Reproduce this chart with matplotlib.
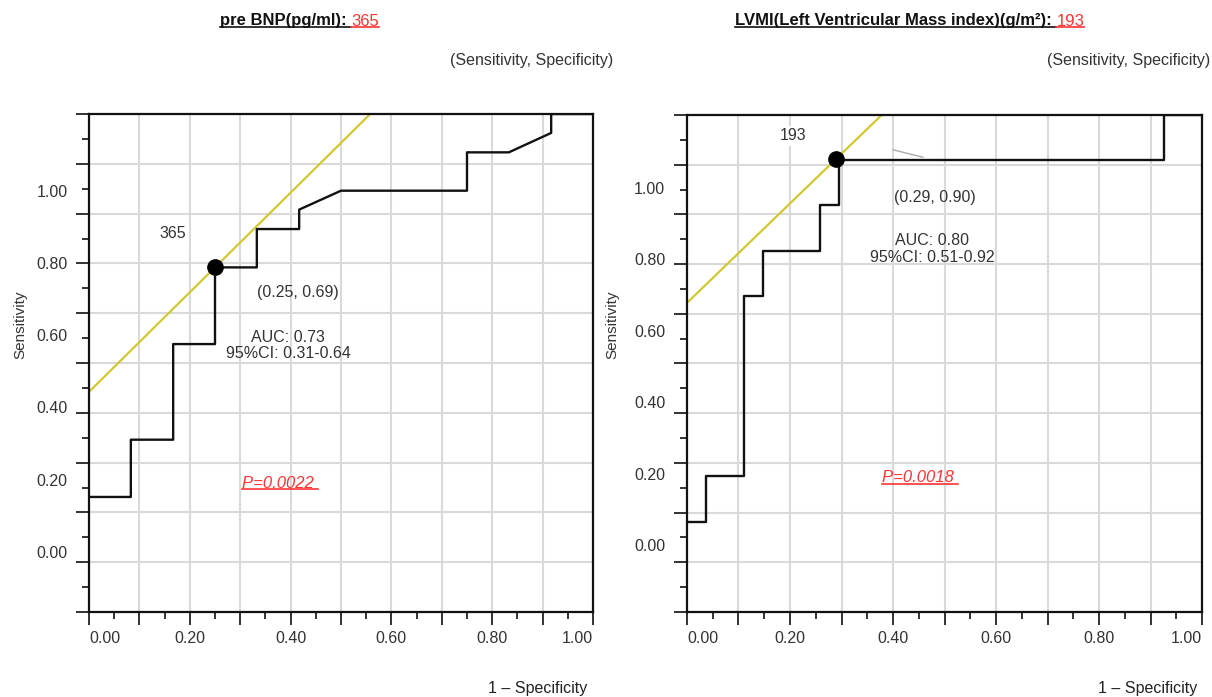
import numpy as np
import matplotlib
matplotlib.use("Agg")
import matplotlib.pyplot as plt
from matplotlib.lines import Line2D
from matplotlib.ticker import MultipleLocator, FixedLocator

plt.rcParams['font.family'] = ['Liberation Sans', 'DejaVu Sans']

# ROC curve vertices
bnp_fpr = [0, 0.083, 0.083, 0.167, 0.167, 0.25, 0.25, 0.333, 0.333, 0.417, 0.417, 0.5, 0.75, 0.75, 0.833, 0.917, 0.917, 1.0]
bnp_sens = [0.231, 0.231, 0.346, 0.346, 0.538, 0.538, 0.692, 0.692, 0.769, 0.769, 0.808, 0.846, 0.846, 0.923, 0.923, 0.962, 1.0, 1.0]
lvmi_fpr = [0, 0.037, 0.037, 0.111, 0.111, 0.148, 0.148, 0.259, 0.259, 0.296, 0.296, 0.926, 0.926, 1.0]
lvmi_sens = [0.182, 0.182, 0.273, 0.273, 0.636, 0.636, 0.727, 0.727, 0.818, 0.818, 0.909, 0.909, 1.0, 1.0]

# optimal cut-off points
cut_fpr = [0.25, 0.29]
cut_sens = [0.692, 0.912]
cut_values = ["365", "193"]
titles = ["pre BNP(pg/ml): ", "LVMI(Left Ventricular Mass index)(g/m\u00b2): "]
pair_labels = ["(0.25, 0.69)", "(0.29, 0.90)"]
auc_labels = ["AUC: 0.73\n95%CI: 0.31-0.64", "AUC: 0.80\n95%CI: 0.51-0.92"]
p_labels = ["P=0.0022 ", "P=0.0018 "]
ytick_labels = ["0.00", "0.20", "0.40", "0.60", "0.80", "1.00"]
xtick_labels = ["0.00", "", "0.20", "", "0.40", "", "0.60", "", "0.80", "", "1.00"]

W, H = 1212, 697
fig = plt.figure(figsize=(W / 100, H / 100), dpi=100)

def px(x, y):
    return x / W, 1 - y / H

ax1 = fig.add_axes([89 / W, 1 - 612 / H, 504 / W, 498 / H])
ax2 = fig.add_axes([687 / W, 1 - 612 / H, 515 / W, 497 / H])

grey = '#d9d9d9'
yellow = '#d2c832'
red = '#ff3333'

panels = [
    (ax1, bnp_fpr, bnp_sens, 0.118, 0.145,
     (0.167, 0.761), (0.415, 0.641), (0.395, 0.535), (0.379, 0.259)),
    (ax2, lvmi_fpr, lvmi_sens, 0.131, 0.144,
     (0.206, 0.958), (0.482, 0.833), (0.476, 0.730), (0.452, 0.270)),
]

p_texts = []
for i, (ax, fpr, sens, y0, dy, cpos, ppos, apos, ppos2) in enumerate(panels):
    ax.set_xlim(0, 1)
    ax.set_ylim(0, 1)
    ax.xaxis.set_major_locator(FixedLocator(np.linspace(0, 1, 11)))
    ax.xaxis.set_minor_locator(FixedLocator(np.linspace(0.05, 0.95, 10)))
    ax.yaxis.set_major_locator(MultipleLocator(0.1))
    ax.yaxis.set_minor_locator(FixedLocator(np.linspace(0.05, 0.95, 10)))
    ax.set_xticklabels(xtick_labels)
    ax.set_yticklabels([])
    ax.tick_params(which='major', length=9.5, width=1.3, color='#222222',
                   labelsize=11.5, labelcolor='#333333', pad=4)
    ax.tick_params(which='minor', length=5, width=1.3, color='#222222')
    labs = ax.get_xticklabels()
    labs[0].set_horizontalalignment('left')
    labs[-1].set_horizontalalignment('right')
    for sp in ax.spines.values():
        sp.set_linewidth(1.6)
        sp.set_color('#111111')
    ax.grid(which='major', color=grey, lw=1.5)
    ax.set_axisbelow(True)

    # y labels sit on their own spacing in the original
    for k, lab in enumerate(ytick_labels):
        ax.text(-0.042, y0 + k * dy, lab, transform=ax.get_yaxis_transform(),
                ha='right', va='center', fontsize=11.5, color='#333333')

    # tangent line through the cut-off point
    xs = np.array([0, 1])
    ax.plot(xs, xs + (cut_sens[i] - cut_fpr[i]), color=yellow, lw=1.6, zorder=2)
    ax.plot(fpr, sens, color='#111111', lw=1.7, zorder=3)
    ax.plot(cut_fpr[i], cut_sens[i], 'o', color='black', ms=11, zorder=4)

    ax.text(*cpos, cut_values[i], fontsize=11.5, color='#333333', ha='center',
            va='center', bbox=dict(fc='white', ec='none', pad=2), zorder=3)
    ax.text(*ppos, pair_labels[i], fontsize=11.5, color='#333333', ha='center', va='center')
    ax.text(*apos, auc_labels[i], fontsize=11.5, color='#333333', ha='center',
            va='center', linespacing=1.15)
    p_texts.append(ax.text(*ppos2, p_labels[i], fontsize=12, color=red, style='italic',
                           ha='center', va='center'))

ax2.plot([0.400, 0.458], [0.930, 0.915], color='#aaaaaa', lw=1, zorder=3)

for x, y in [(20, 325), (612, 325)]:
    fig.text(*px(x, y), "Sensitivity", rotation=90, ha='center', va='center',
             fontsize=11, color='#333333')
for x in [538, 1148]:
    fig.text(*px(x, 689), "1 \u2013 Specificity", ha='center', va='center',
             fontsize=11.5, color='#222222')
for x in [613, 1210]:
    fig.text(*px(x, 60), "(Sensitivity, Specificity)", ha='right', va='center',
             fontsize=11.5, color='#333333')

fig.canvas.draw()
r = fig.canvas.get_renderer()
inv = fig.transFigure.inverted()

def underline(t, color, lw=1.2):
    bb = t.get_window_extent(r)
    (x0, yy), (x1, _) = inv.transform([(bb.x0, bb.y0 + 1.5), (bb.x1, bb.y0 + 1.5)])
    fig.add_artist(Line2D([x0, x1], [yy, yy], color=color, lw=lw, transform=fig.transFigure))

title_starts = [220, 735]
for i in range(2):
    t1 = fig.text(*px(title_starts[i], 21), titles[i], fontsize=12, fontweight='bold',
                  color='#111111', ha='left', va='center')
    fig.canvas.draw()
    bb = t1.get_window_extent(r)
    x1 = inv.transform((bb.x1, bb.y0))[0]
    t2 = fig.text(x1, px(0, 21)[1], cut_values[i], fontsize=12, color=red,
                  ha='left', va='center')
    fig.canvas.draw()
    underline(t1, '#111111')
    underline(t2, red)

for t in p_texts:
    underline(t, red)

fig.savefig("out.png", dpi=100)
